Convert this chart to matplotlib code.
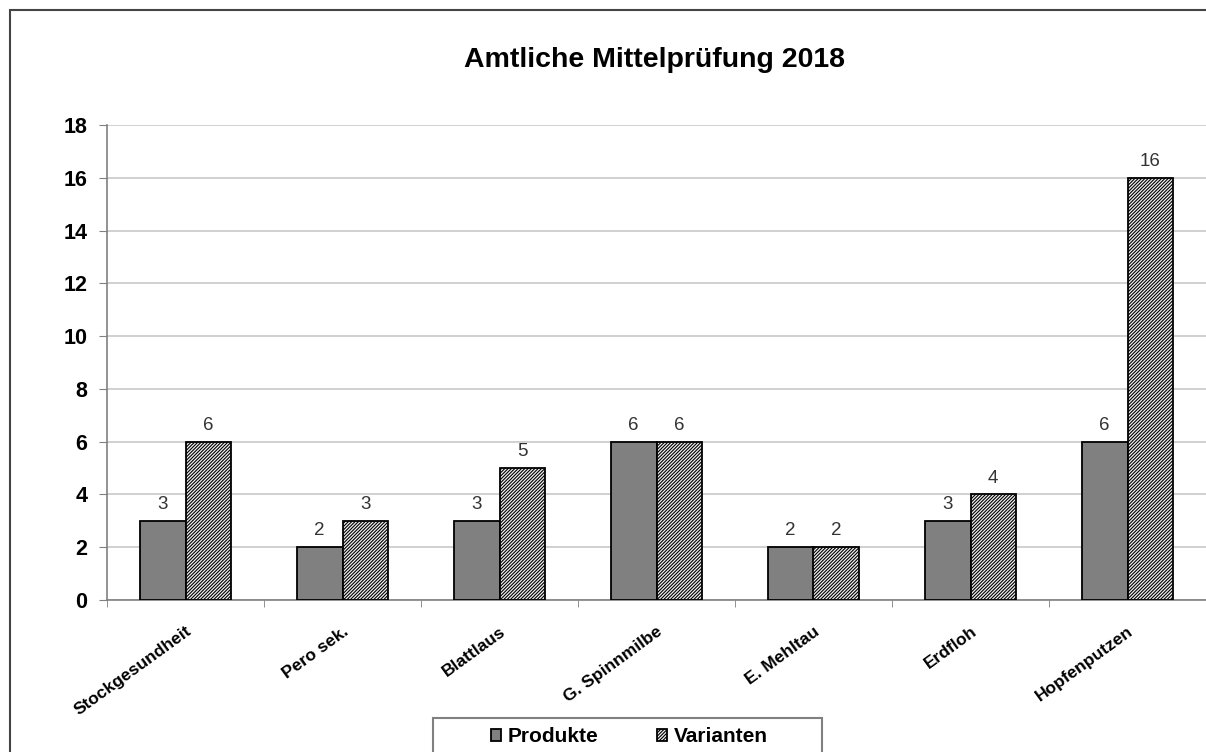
import matplotlib.pyplot as plt
import numpy as np
from matplotlib.patches import Rectangle

plt.rcParams["font.family"] = ["Liberation Sans", "DejaVu Sans"]
plt.rcParams["hatch.linewidth"] = 0.8
plt.rcParams["hatch.color"] = "#555555"

categories = ["Stockgesundheit", "Pero sek.", "Blattlaus", "G. Spinnmilbe",
              "E. Mehltau", "Erdfloh", "Hopfenputzen"]
produkte = [3, 2, 3, 6, 2, 3, 6]
varianten = [6, 3, 5, 6, 2, 4, 16]

W, H = 1206, 752
fig = plt.figure(figsize=(W / 100, H / 100), dpi=100)
# outer chart frame (cut at right/bottom like the reference)
fig.patches.append(Rectangle((10 / W, -0.1), 1.2, 1.1 - 10 / H,
                             transform=fig.transFigure, fill=False,
                             edgecolor="#444444", lw=1.5))
ax = fig.add_axes([107 / W, 1 - 600 / H, 1099 / W, 475 / H])

x = np.arange(len(categories))
w = 0.29
b1 = ax.bar(x - w / 2, produkte, w, color="#808080", edgecolor="black",
            lw=1.3, label="Produkte", zorder=3)
b2 = ax.bar(x + w / 2, varianten, w, color="#f0f0f0", edgecolor="black",
            hatch="//////////", lw=1.3, label="Varianten", zorder=3)

for bars, vals in ((b1, produkte), (b2, varianten)):
    for r, v in zip(bars, vals):
        ax.text(r.get_x() + r.get_width() / 2, v + 0.3, str(v),
                ha="center", va="bottom", fontsize=13.5, color="#333333")

ax.set_xlim(-0.5, len(categories) - 0.5)
ax.set_ylim(0, 18)
ax.set_yticks(range(0, 19, 2))
ax.yaxis.grid(True, color="#c8c8c8", lw=1.2, zorder=0)
ax.set_axisbelow(True)

ax.set_xticks(x)
ax.set_xticklabels(categories, rotation=36, ha="right", rotation_mode="anchor",
                   fontsize=12.5, fontweight="bold")
ax.set_xticks(np.arange(len(categories) + 1) - 0.5, minor=True)
ax.tick_params(axis="x", which="major", length=0, pad=17)
ax.tick_params(axis="x", which="minor", length=5, color="#808080")
ax.tick_params(axis="y", length=6, color="#808080", labelsize=15.5, pad=8)
for lab in ax.get_yticklabels():
    lab.set_fontweight("bold")

for s in ("top", "right"):
    ax.spines[s].set_visible(False)
for s in ("left", "bottom"):
    ax.spines[s].set_color("#808080")
    ax.spines[s].set_linewidth(1.2)

fig.text(655 / W, 1 - 60 / H, "Amtliche Mittelprüfung 2018", ha="center",
         va="center", fontsize=20.5, fontweight="bold")

# legend box
fig.patches.append(Rectangle((433 / W, -0.1), (822 - 433) / W,
                             0.1 + 1 - 718 / H, transform=fig.transFigure,
                             fill=False, edgecolor="#808080", lw=1.5))
leg = fig.legend(handles=[b1, b2], loc="center left",
                 bbox_to_anchor=(491 / W, 1 - 737 / H), ncol=2,
                 frameon=False, prop={"weight": "bold", "size": 15},
                 handlelength=0.5, handleheight=0.5, handletextpad=0.3,
                 columnspacing=2.8, borderpad=0, borderaxespad=0)

fig.savefig("out.png", dpi=100)
